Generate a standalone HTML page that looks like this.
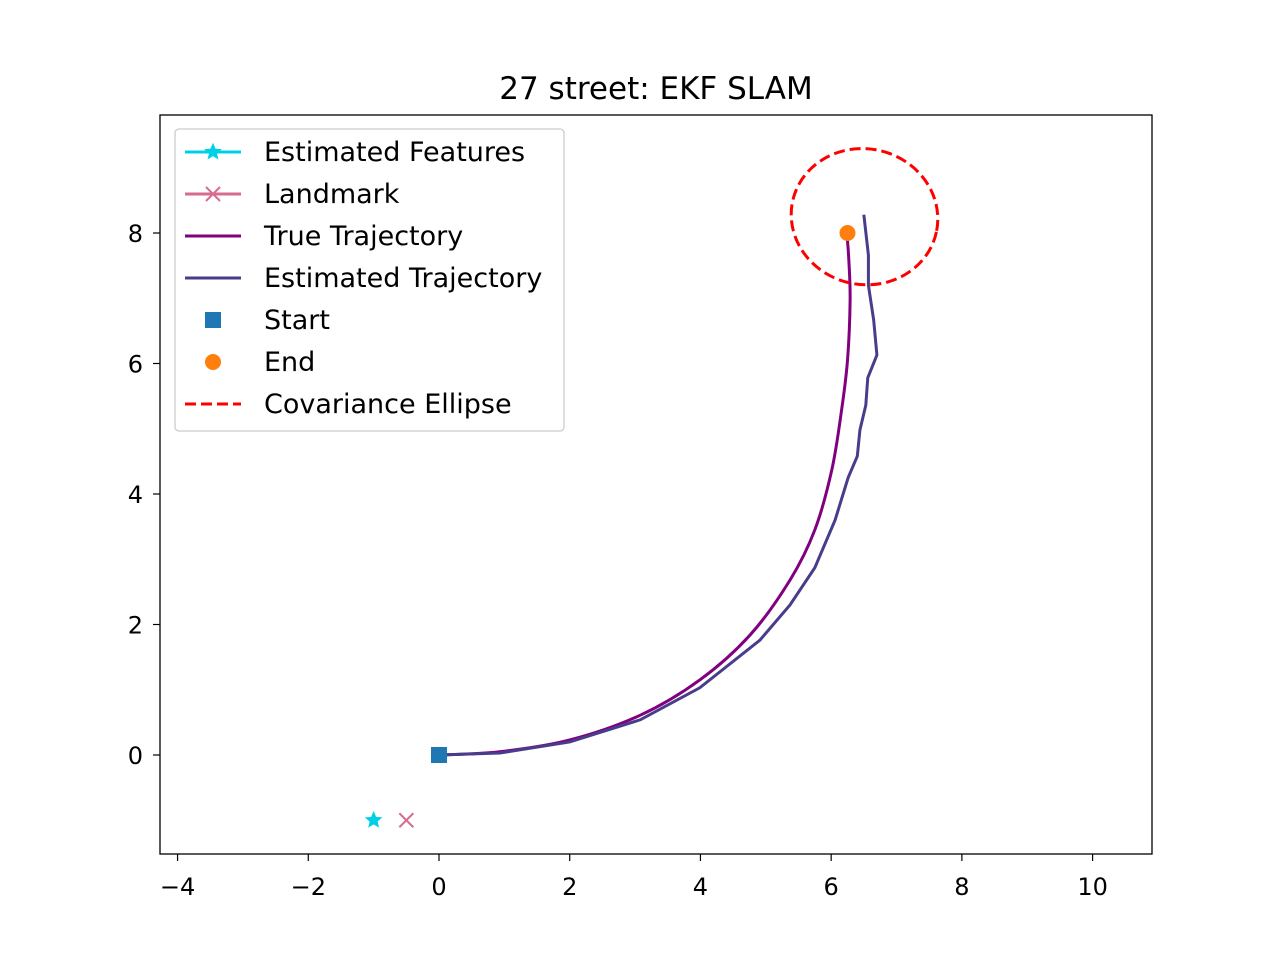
<!DOCTYPE html>
<html><head><meta charset="utf-8"><style>
body{margin:0;background:#fff;}
svg{font-family:"DejaVu Sans","Liberation Sans",sans-serif;}
</style></head><body>
<svg id="chart" width="1280" height="960">
<rect width="1280" height="960" fill="#fff"/>
<text x="656" y="99" font-size="31" text-anchor="middle">27 street: EKF SLAM</text>
<g id="ticks"></g>
<g id="marks"></g>
<rect x="160" y="115" width="992" height="739" fill="none" stroke="#000" stroke-width="1.3"/>
<g id="legend">
<rect x="175" y="129" width="389" height="302" rx="4" fill="#fff" fill-opacity="0.8" stroke="#ccc" stroke-width="1.3"/>
</g>
</svg>
<script>
const xTicks=[-4,-2,0,2,4,6,8,10];
const yTicks=[0,2,4,6,8];
const trueX=[0,0.93,2.0,3.08,3.99,4.76,5.37,5.75,6.01,6.16,6.25,6.29,6.27,6.24];
const trueY=[0,0.05,0.23,0.61,1.15,1.84,2.68,3.45,4.37,5.29,6.05,6.97,7.59,8.0];
const estX=[0,0.93,2.0,3.08,3.99,4.91,5.37,5.75,6.06,6.26,6.40,6.44,6.53,6.56,6.70,6.65,6.57,6.57,6.50];
const estY=[0,0.03,0.2,0.54,1.03,1.76,2.30,2.87,3.60,4.25,4.58,4.98,5.36,5.78,6.13,6.67,7.20,7.66,8.28];
const start=[0,0], end=[6.25,8], feature=[-1,-1], landmark=[-0.5,-1];
const ellipse={cx:6.51,cy:8.25,rx:1.125,ry:1.04};
const X=v=>439+65.36*v, Y=v=>755-65.25*v;
const NS="http://www.w3.org/2000/svg";
function mk(tag,attrs,parent){const e=document.createElementNS(NS,tag);for(const k in attrs)e.setAttribute(k,attrs[k]);parent.appendChild(e);return e;}
const tk=document.getElementById('ticks'), mg=document.getElementById('marks'), lg=document.getElementById('legend');
xTicks.forEach(v=>{
 const l=mk('line',{x1:X(v),x2:X(v),y1:854,y2:861,stroke:'#000','stroke-width':1.2},tk);
 
 
 const t=mk('text',{x:X(v),y:895,'font-size':24,'text-anchor':'middle'},tk);t.textContent=(v<0?'\u2212'+(-v):v);
 
 
});
yTicks.forEach(v=>{
 const l=mk('line',{x1:153,x2:160,y1:Y(v),y2:Y(v),stroke:'#000','stroke-width':1.2},tk);
 
 
 const t=mk('text',{x:143,y:Y(v)+9,'font-size':24,'text-anchor':'end'},tk);t.textContent=v;
 
 
});
const pts=(xs,ys)=>xs.map((x,i)=>X(x)+','+Y(ys[i])).join(' ');
function smooth(xs,ys){const P=xs.map((x,i)=>[X(x),Y(ys[i])]);let d='M'+P[0];for(let i=0;i<P.length-1;i++){const p0=P[Math.max(0,i-1)],p1=P[i],p2=P[i+1],p3=P[Math.min(P.length-1,i+2)];const c1=[p1[0]+(p2[0]-p0[0])/6,p1[1]+(p2[1]-p0[1])/6],c2=[p2[0]-(p3[0]-p1[0])/6,p2[1]-(p3[1]-p1[1])/6];d+='C'+c1+' '+c2+' '+p2;}return d;}
const tl=mk('path',{d:smooth(trueX,trueY),fill:'none',stroke:'#800080','stroke-width':3},mg);


const el=mk('polyline',{points:pts(estX,estY),fill:'none',stroke:'#483d8b','stroke-width':3},mg);


const ce=mk('ellipse',{cx:X(ellipse.cx),cy:Y(ellipse.cy),rx:ellipse.rx*65.36,ry:ellipse.ry*65.25,fill:'none',stroke:'#ff0000','stroke-width':3,'stroke-dasharray':'11,5',transform:'rotate(12 '+X(ellipse.cx)+' '+Y(ellipse.cy)+')'},mg);


const sm=mk('rect',{x:X(start[0])-8,y:Y(start[1])-8,width:16,height:16,fill:'#1f77b4'},mg);


const em=mk('circle',{cx:X(end[0]),cy:Y(end[1]),r:8,fill:'#ff7f0e'},mg);


function star(cx,cy,r,parent){let p=[];for(let i=0;i<10;i++){const a=-Math.PI/2+i*Math.PI/5;const rr=i%2?r*0.45:r;p.push((cx+rr*Math.cos(a))+','+(cy+rr*Math.sin(a)));}return mk('polygon',{points:p.join(' '),fill:'#00d0e6',stroke:'#00d0e6','stroke-width':1},parent);}
const fm=star(X(feature[0]),Y(feature[1]),8,mg);


function cross(cx,cy,parent){const g=mk('g',{stroke:'#d66d8f','stroke-width':2},parent);mk('line',{x1:cx-7,y1:cy-7,x2:cx+7,y2:cy+7},g);mk('line',{x1:cx-7,y1:cy+7,x2:cx+7,y2:cy-7},g);return g;}
const lm=cross(X(landmark[0]),Y(landmark[1]),mg);


const labels=['Estimated Features','Landmark','True Trajectory','Estimated Trajectory','Start','End','Covariance Ellipse'];
labels.forEach((s,i)=>{
 const y=152+i*42;
 const g=mk('g',{},lg);
 
 
 if(i===0){mk('line',{x1:185,x2:241,y1:y,y2:y,stroke:'#00d0e6','stroke-width':3},g);star(213,y,8,g);}
 if(i===1){mk('line',{x1:185,x2:241,y1:y,y2:y,stroke:'#d66d8f','stroke-width':3},g);cross(213,y,g);}
 if(i===2)mk('line',{x1:185,x2:241,y1:y,y2:y,stroke:'#800080','stroke-width':3},g);
 if(i===3)mk('line',{x1:185,x2:241,y1:y,y2:y,stroke:'#483d8b','stroke-width':3},g);
 if(i===4)mk('rect',{x:205,y:y-8,width:16,height:16,fill:'#1f77b4'},g);
 if(i===5)mk('circle',{cx:213,cy:y,r:8,fill:'#ff7f0e'},g);
 if(i===6)mk('line',{x1:185,x2:241,y1:y,y2:y,stroke:'#ff0000','stroke-width':3,'stroke-dasharray':'11,5'},g);
 const t=mk('text',{x:264,y:y+9,'font-size':27},g);t.textContent=s;
});
</script>
</body></html>
